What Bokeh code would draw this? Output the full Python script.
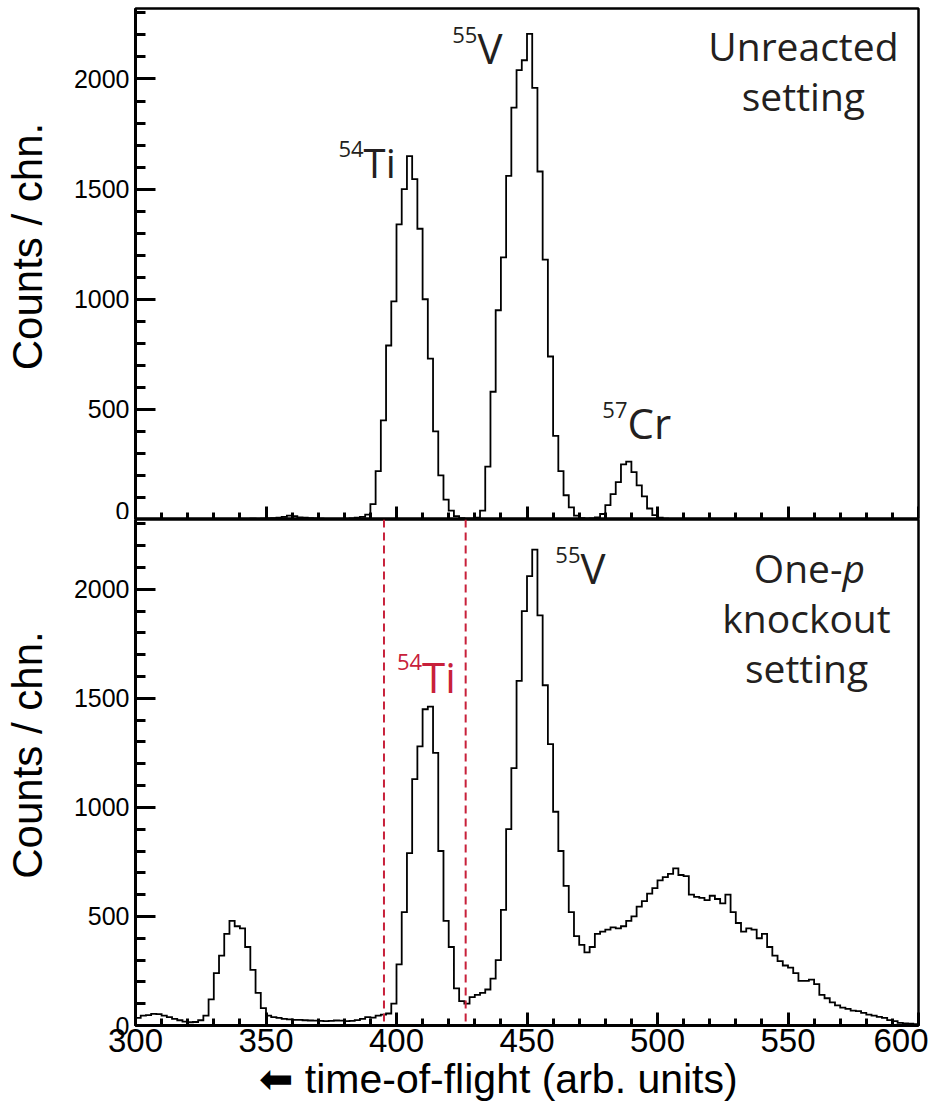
import numpy as np
from bokeh.plotting import figure
from bokeh.layouts import column
from bokeh.models import Range1d, SingleIntervalTicker, FixedTicker, Label, Span
from bokeh.embed import file_html
from bokeh.resources import INLINE

# ---------------- data (2-unit channels from 300 to 600) ----------------
tof_start = 300.0
bin_width = 2.0

unreacted_counts = [
    0, 0, 0, 0, 0, 0, 0, 0, 0, 0, 0,
    1, 1, 1, 1, 2, 2, 2,
    3, 2, 3, 3, 4, 3, 4,
    5, 6, 8, 12, 18, 15, 10, 8, 6, 5,
    4, 3, 2, 2, 3, 3, 5, 8, 12, 22,
    70, 220, 450, 790, 990, 1340, 1500, 1650, 1545, 1320,
    1000, 730, 400, 200, 90, 40, 15, 6, 4, 4,
    8, 40, 240, 580, 950, 1190, 1560, 1870, 2040, 2085,
    2205, 1960, 1580, 1180, 740, 380, 220, 110, 55, 18,
    6, 4, 5, 10, 25, 65, 115, 170, 250, 263,
    215, 155, 105, 50, 20, 8, 4, 3, 2, 2,
    2, 2, 1, 1, 1, 1, 1, 1, 1, 1,
    1, 1, 1, 1, 0, 0, 0, 0, 0, 0,
    0, 0, 0, 0, 0, 0, 0, 0, 0, 0,
    0, 0, 0, 0, 0, 0, 0, 0, 0, 0,
    0, 0, 0, 0, 0,
]

knockout_counts = [
    35, 45, 48, 53, 52, 45, 38, 30, 24, 18, 15, 16, 24, 45, 120, 240, 320, 420, 480, 455, 445, 360, 255, 150, 80,
    45, 38, 35, 30, 28, 26, 26, 24, 23, 22,
    21, 20, 21, 23, 22, 20, 21, 25, 30, 38,
    36, 45, 50, 55, 100, 280, 520, 790, 1130, 1280,
    1450, 1462, 1250, 800, 480, 360, 170, 112, 100, 130,
    140, 150, 165, 215, 300, 530, 900, 1180, 1580, 1900,
    2060, 2182, 1880, 1560, 1290, 980, 800, 640, 520, 410,
    370, 335, 360, 420, 430, 440, 450, 445, 455, 480,
    500, 545, 570, 605, 630, 665, 680, 695, 720, 690,
    685, 600, 590, 585, 575, 595, 580, 560, 600, 520,
    470, 430, 445, 440, 400, 420, 360, 320, 295, 275,
    265, 240, 205, 205, 210, 190, 140, 125, 106, 92,
    82, 76, 68, 66, 58, 50, 45, 40, 35, 25,
    20, 12, 10, 8, 6,
]

cut_window = [395.2, 426.5]          # red dashed gate on 54Ti
x_limits = [300, 600]
y_limits = [0, 2320]
x_tick_labels = [300, 350, 400, 450, 500, 550, 600]
y_major_ticks = [0, 500, 1000, 1500, 2000]
y_minor_ticks = [t for t in range(100, 2400, 100) if t % 500 != 0]

RED = "#c8203a"
INK = "#231f20"
TICK_FONT = "Liberation Sans"
ANN_FONT = "Open Sans"
NB = "\u00a0"


def hist_xy(counts):
    n = len(counts)
    edges = tof_start + bin_width * np.arange(n + 1)
    ys = np.append(np.asarray(counts, dtype=float), counts[-1])
    return edges, ys


def make_fig(height, top_border, bottom_border, major_ticks):
    p = figure(width=928, height=height,
               x_range=Range1d(*x_limits), y_range=Range1d(*y_limits),
               output_backend="svg", toolbar_location=None,
               min_border_left=135, min_border_right=10,
               min_border_top=top_border, min_border_bottom=bottom_border)
    p.grid.visible = False
    p.outline_line_color = "black"
    p.outline_line_width = 2.5
    p.outline_line_alpha = 1.0
    p.background_fill_color = "white"
    p.border_fill_color = "white"

    p.yaxis.ticker = FixedTicker(ticks=major_ticks, minor_ticks=y_minor_ticks)
    p.yaxis.axis_line_width = 3
    p.yaxis.major_tick_in = 20
    p.yaxis.major_tick_out = 0
    p.yaxis.minor_tick_in = 10
    p.yaxis.minor_tick_out = 0
    p.yaxis.major_tick_line_width = 3
    p.yaxis.minor_tick_line_width = 3
    p.yaxis.major_label_text_font = TICK_FONT
    p.yaxis.major_label_text_font_size = "25px"
    p.yaxis.major_label_text_color = "black"
    p.yaxis.major_label_standoff = 6
    # leading no-break spaces lift the centred title a little, as in the original
    p.yaxis.axis_label = NB * 3 + "Counts / chn."
    p.yaxis.axis_label_text_font = TICK_FONT
    p.yaxis.axis_label_text_font_size = "42px"
    p.yaxis.axis_label_text_font_style = "normal"
    p.yaxis.axis_label_text_color = "black"
    p.yaxis.axis_label_standoff = 20

    p.xaxis.ticker = SingleIntervalTicker(interval=50, num_minor_ticks=5)
    p.xaxis.axis_line_width = 3
    p.xaxis.major_tick_in = 13
    p.xaxis.major_tick_out = 0
    p.xaxis.minor_tick_in = 7
    p.xaxis.minor_tick_out = 0
    p.xaxis.major_tick_line_width = 3
    p.xaxis.minor_tick_line_width = 3
    p.xaxis.major_label_text_font = TICK_FONT
    p.xaxis.major_label_text_font_size = "33px"
    p.xaxis.major_label_text_color = "black"
    p.xaxis.major_label_standoff = 3
    return p


def lab(p, x, y, txt, size, color=INK, align="left", style="normal"):
    p.add_layout(Label(x=x, y=y, text=txt, text_align=align, text_baseline="alphabetic",
                       text_font=ANN_FONT, text_font_size=size, text_font_style=style,
                       text_color=color))


def iso_label(p, x, y_sym, y_mass, mass, sym, color=INK, size="42px"):
    lab(p, x, y_mass, mass, "22px", color, align="right")
    lab(p, x, y_sym, sym, size, color, align="left")


# ---------------- top panel: unreacted setting ----------------
top = make_fig(519, 8, 0, y_major_ticks)
top.xaxis.fixed_location = 0
top.xaxis.major_label_overrides = {t: "" for t in x_tick_labels}
ex, ey = hist_xy(unreacted_counts)
top.step(x=ex, y=ey, mode="after", line_color="black", line_width=1.8, line_join="miter")

iso_label(top, 387.4, 1619, 1680, "54", "Ti", size="40px")
iso_label(top, 431.0, 2144, 2198, "55", "V")
iso_label(top, 488.5, 442, 496, "57", "Cr")
lab(top, 555.9, 2152, "Unreacted", "39px", align="center")
lab(top, 555.9, 1926, "setting", "39px", align="center")

# ---------------- bottom panel: one-proton knockout setting ----------------
bot = make_fig(593, 0, 87, y_major_ticks)
kx, ky = hist_xy(knockout_counts)
for loc in cut_window:
    bot.add_layout(Span(location=loc, dimension="height", line_color=RED,
                        line_dash="8 5", line_width=2))
bot.step(x=kx, y=ky, mode="after", line_color="black", line_width=1.8, line_join="miter")

iso_label(bot, 470.5, 2102, 2156, "55", "V")
iso_label(bot, 409.8, 1602, 1665, "54", "Ti", color=RED)
lab(bot, 570.9, 2101, "One-", "39px", align="right")
lab(bot, 570.9, 2101, "p", "39px", align="left", style="italic")
lab(bot, 557.1, 1872, "knockout", "39px", align="center")
lab(bot, 557.1, 1642, "setting", "39px", align="center")

bot.xaxis.axis_label = "\u2b05" + NB + "time-of-flight (arb. units)" + NB * 5
bot.xaxis.axis_label_text_font = TICK_FONT
bot.xaxis.axis_label_text_font_size = "41px"
bot.xaxis.axis_label_text_font_style = "normal"
bot.xaxis.axis_label_text_color = "black"
bot.xaxis.axis_label_standoff = 1

layout = column(top, bot, spacing=0)
open("out.html", "w").write(file_html(layout, INLINE))
